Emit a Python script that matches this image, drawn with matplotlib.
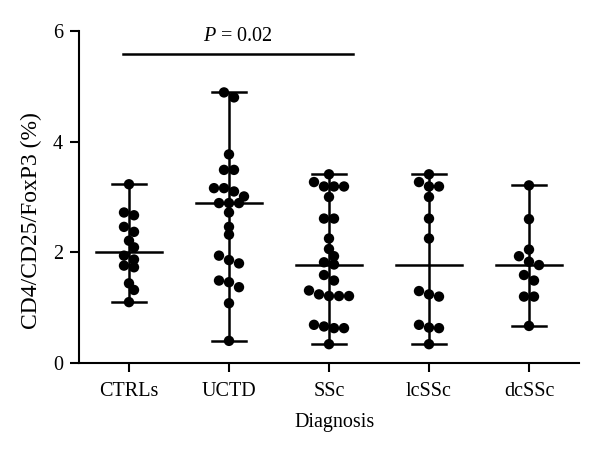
import numpy as np
import matplotlib
matplotlib.use('Agg')
import matplotlib.pyplot as plt

categories = ['CTRLs', 'UCTD', 'SSc', 'lcSSc', 'dcSSc']
ctrls = [3.23, 2.72, 2.67, 2.46, 2.37, 2.21, 2.09, 1.94, 1.87, 1.76, 1.73, 1.44, 1.32, 1.10]
uctd = [4.89, 4.80, 3.77, 3.49, 3.49, 3.16, 3.16, 3.10, 3.01, 2.89, 2.89, 2.89,
        2.72, 2.46, 2.32, 1.94, 1.86, 1.80, 1.49, 1.46, 1.37, 1.08, 0.40]
ssc = [3.41, 3.27, 3.19, 3.19, 3.19, 3.00, 2.61, 2.61, 2.25, 2.06, 1.93, 1.82, 1.78,
       1.59, 1.49, 1.31, 1.24, 1.21, 1.21, 1.21, 0.69, 0.66, 0.63, 0.63, 0.34]
lcssc = [3.41, 3.27, 3.19, 3.19, 3.00, 2.61, 2.25, 1.30, 1.24, 1.20, 0.69, 0.64, 0.63, 0.34]
dcssc = [3.21, 2.60, 2.05, 1.93, 1.83, 1.77, 1.59, 1.49, 1.20, 1.20, 0.67]
groups = [ctrls, uctd, ssc, lcssc, dcssc]
yticks = [0, 2, 4, 6]
p_text = r'$\mathit{P}$ = 0.02'
p_groups = (1, 3)  # CTRLs vs SSc
xlabel = 'Diagnosis'
ylabel = 'CD4/CD25/FoxP3 (%)'

plt.rcParams['font.family'] = ['Liberation Serif', 'DejaVu Serif']
plt.rcParams['mathtext.fontset'] = 'custom'
plt.rcParams['mathtext.it'] = 'Liberation Serif:italic'
plt.rcParams['mathtext.rm'] = 'Liberation Serif'

W, H = 600, 457
fig = plt.figure(figsize=(W / 100, H / 100), dpi=100)
ax_l, ax_b, ax_w, ax_h = 79, 363, 500, 332
ax = fig.add_axes([ax_l / W, 1 - ax_b / H, ax_w / W, ax_h / H])
ax.set_xlim(0.5, 5.5)
ax.set_ylim(0, 6)

px_x = ax_w / 5.0
px_y = ax_h / 6.0


def swarm(vals, d=7.5, step=5.0, row_tol=6.0):
    """Place points row by row; each row of near-equal values is centred."""
    vals = np.asarray(vals, float)
    order = np.argsort(-vals, kind='stable')
    rows, cur = [], [order[0]]
    for a, b in zip(order[:-1], order[1:]):
        if (vals[a] - vals[b]) * px_y < row_tol:
            cur.append(b)
        else:
            rows.append(cur)
            cur = [b]
    rows.append(cur)
    placed = []
    xs = np.zeros(len(vals))
    for r in rows:
        n = len(r)
        base = (np.arange(n) - (n - 1) / 2) * 2 * step
        best = None
        for k in [0, 1, -1, 2, -2, 3, -3, 4, -4]:
            shift = k * step
            cand = base + shift
            bad = 0
            for x, i in zip(cand, r):
                y = vals[i] * px_y
                bad += sum(max(0, d - np.hypot(x - a, y - b)) for a, b in placed)
            if best is None or bad < best[0] - 1e-9:
                best = (bad, cand)
            if bad == 0:
                break
        for x, i in zip(best[1], r):
            xs[i] = x
            placed.append((x, vals[i] * px_y))
    return xs / px_x


lw = 1.8
for i, vals in enumerate(groups):
    pos = i + 1
    v = np.asarray(vals)
    med = np.median(v)
    lo, hi = v.min(), v.max()
    ax.plot([pos, pos], [lo, hi], color='black', lw=lw, zorder=2, solid_capstyle='butt')
    ax.plot([pos - 0.17, pos + 0.17], [lo, lo], color='black', lw=lw, zorder=2)
    ax.plot([pos - 0.17, pos + 0.17], [hi, hi], color='black', lw=lw, zorder=2)
    ax.plot([pos - 0.33, pos + 0.33], [med, med], color='black', lw=lw, zorder=2)
    offs = swarm(v)
    ax.scatter(pos + offs, v, s=56, color='black', edgecolors='none', zorder=3)

# significance bar
x0, x1 = p_groups[0] - 0.06, p_groups[1] + 0.24
ax.plot([x0, x1], [5.58, 5.58], color='black', lw=lw, clip_on=False)
ax.text((x0 + x1) / 2, 5.9, p_text, ha='center', va='center', fontsize=14.5, clip_on=False)

ax.set_xticks(range(1, len(categories) + 1))
ax.set_xticklabels(categories)
ax.set_yticks(yticks)
ax.tick_params(axis='both', direction='out', length=6.5, width=1.5, labelsize=14.5, color='black')
ax.tick_params(axis='x', pad=7)
ax.tick_params(axis='y', pad=5)
for s in ['top', 'right']:
    ax.spines[s].set_visible(False)
for s in ['left', 'bottom']:
    ax.spines[s].set_linewidth(1.5)

ax.set_xlabel(xlabel, fontsize=14.5)
ax.set_ylabel(ylabel, fontsize=17)
ax.yaxis.set_label_coords(-0.074, 0.43)
ax.xaxis.set_label_coords(0.512, -0.152)

fig.savefig('out.png', dpi=100)
